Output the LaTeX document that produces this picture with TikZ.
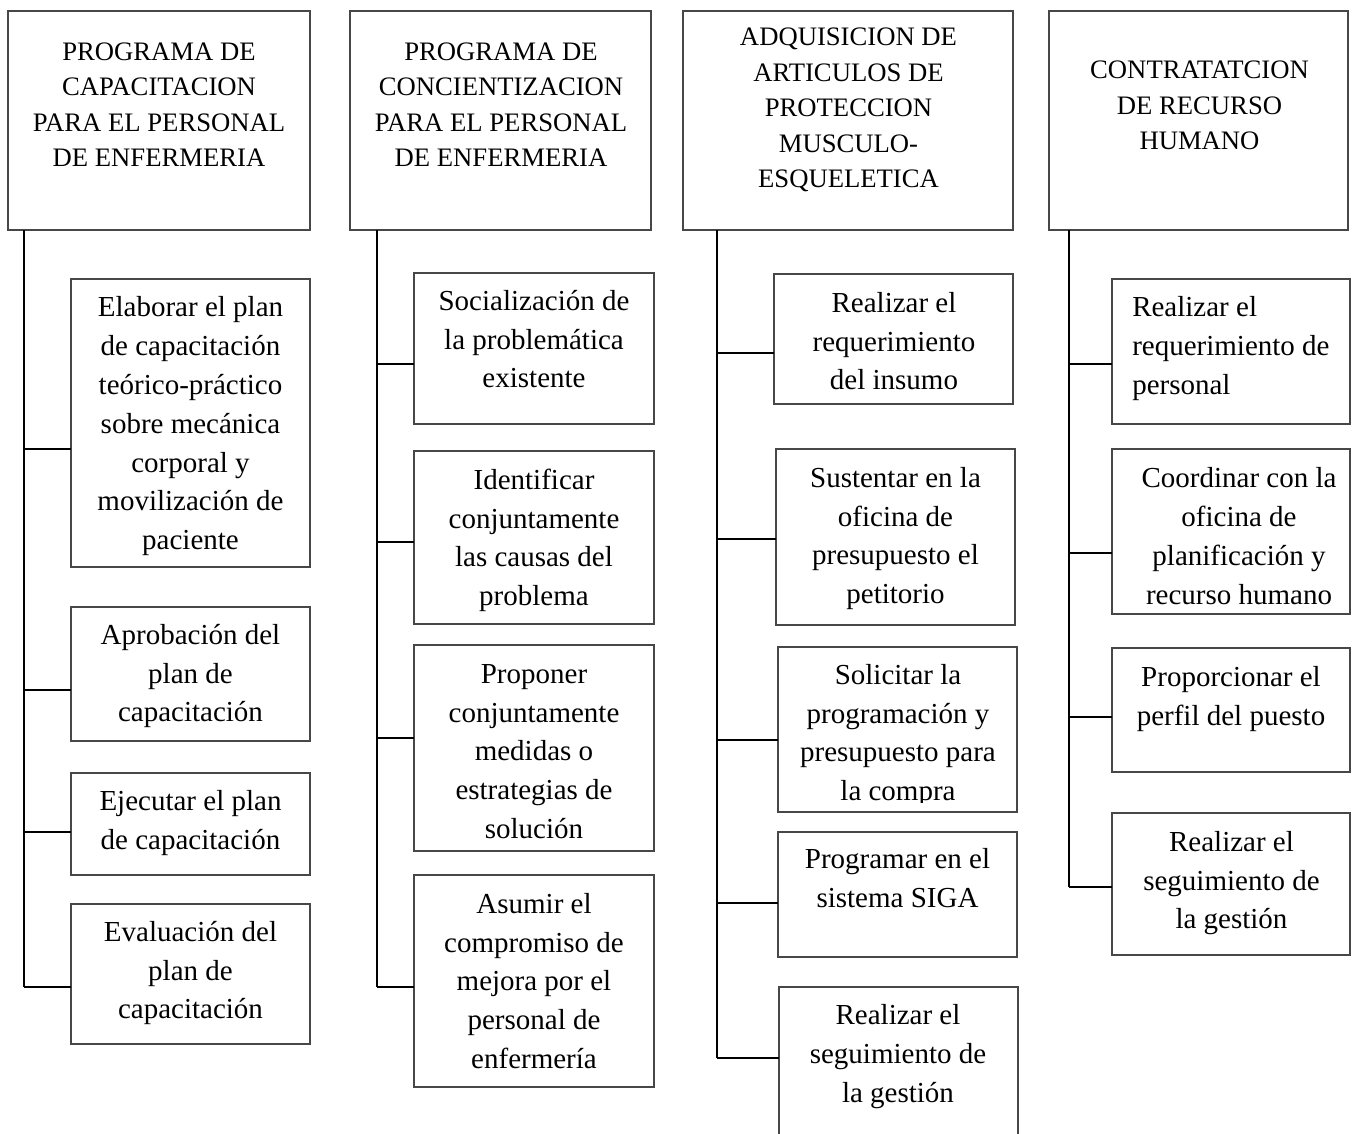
\documentclass[tikz,border=0pt]{standalone}
\usepackage{fontspec}
\setmainfont{Liberation Serif}
\newcommand\hdfont{\fontsize{20}{26.6}\selectfont}
\newcommand\kidfont{\fontsize{21.75}{29.1}\selectfont}
\tikzset{
  boxr/.style={draw=black!72, line width=0.8pt, inner sep=0pt, outer sep=0pt, anchor=north west, rectangle},
  hdtxt/.style={font=\hdfont, align=center, inner sep=0pt, anchor=north},
  kidtxt/.style={font=\kidfont, align=center, inner sep=0pt, anchor=north},
  kidleft/.style={font=\kidfont, align=left, inner sep=0pt, anchor=north west},
  link/.style={line width=1.5pt, black}
}
% box: name, x1, y1, x2, y2 (pixels)
\newcommand\mkbox[5]{\node[boxr, minimum width={(#4-#2)*0.75pt}, minimum height={(#5-#3)*0.75pt}] (#1) at (#2,#3) {};}
% header text: name, centre x, first baseline y, text
\newcommand\hdtext[4]{\node[hdtxt] (#1) at (#2,#3-20) {\rule{0pt}{0.75em}#4};}
% child text: name, centre x, first baseline y, text
\newcommand\kidtext[4]{\node[kidtxt] (#1) at (#2,#3-21.75) {\rule{0pt}{0.75em}#4};}
\begin{document}
\begin{tikzpicture}[x=0.75pt,y=-0.75pt]
\useasboundingbox (0,0) rectangle (1357,1133);
\fill[white] (0,0) rectangle (1357,1133);

% ---------- headers ----------
\mkbox{h1}{8}{11}{310}{230}
\mkbox{h2}{350}{11}{651}{230}
\mkbox{h3}{683}{11}{1013}{230}
\mkbox{h4}{1049}{11}{1348}{230}
\hdtext{h1t}{159}{60}{PROGRAMA DE\\CAPACITACION\\PARA EL PERSONAL\\DE ENFERMERIA}
\hdtext{h2t}{501}{60}{PROGRAMA DE\\CONCIENTIZACION\\PARA EL PERSONAL\\DE ENFERMERIA}
\hdtext{h3t}{848.5}{45.5}{ADQUISICION DE\\ARTICULOS DE\\PROTECCION\\MUSCULO-\\ESQUELETICA}
\hdtext{h4t}{1199.5}{78.5}{CONTRATATCION\\DE RECURSO\\HUMANO}

% ---------- column 1 ----------
\mkbox{c11}{71}{279}{310}{567}
\mkbox{c12}{71}{607}{310}{741}
\mkbox{c13}{71}{773}{310}{875}
\mkbox{c14}{71}{904}{310}{1044}
\kidtext{c11t}{190.5}{316.7}{Elaborar el plan\\de capacitación\\teórico-práctico\\sobre mecánica\\corporal y\\movilización de\\paciente}
\kidtext{c12t}{190.5}{644}{Aprobación del\\plan de\\capacitación}
\kidtext{c13t}{190.5}{810}{Ejecutar el plan\\de capacitación}
\kidtext{c14t}{190.5}{941}{Evaluación del\\plan de\\capacitación}
\coordinate (j11) at (24,449);
\coordinate (j12) at (24,690);
\coordinate (j13) at (24,832);
\coordinate (j14) at (24,987);
\draw[link] (h1.south -| j14) -- (j14);
\draw[link] (j11) -- (j11 -| c11.west);
\draw[link] (j12) -- (j12 -| c12.west);
\draw[link] (j13) -- (j13 -| c13.west);
\draw[link] (j14) -- (j14 -| c14.west);

% ---------- column 2 ----------
\mkbox{c21}{414}{273}{654}{424}
\mkbox{c22}{414}{451}{654}{624}
\mkbox{c23}{414}{645}{654}{851}
\mkbox{c24}{414}{875}{654}{1087}
\kidtext{c21t}{534}{310}{Socialización de\\la problemática\\existente}
\kidtext{c22t}{534}{489}{Identificar\\conjuntamente\\las causas del\\problema}
\kidtext{c23t}{534}{683}{Proponer\\conjuntamente\\medidas o\\estrategias de\\solución}
\kidtext{c24t}{534}{913}{Asumir el\\compromiso de\\mejora por el\\personal de\\enfermería}
\coordinate (j21) at (377,364);
\coordinate (j22) at (377,542);
\coordinate (j23) at (377,738);
\coordinate (j24) at (377,987);
\draw[link] (h2.south -| j24) -- (j24);
\draw[link] (j21) -- (j21 -| c21.west);
\draw[link] (j22) -- (j22 -| c22.west);
\draw[link] (j23) -- (j23 -| c23.west);
\draw[link] (j24) -- (j24 -| c24.west);

% ---------- column 3 ----------
\mkbox{c31}{774}{274}{1013}{404}
\mkbox{c32}{776}{449}{1015}{625}
\mkbox{c33}{778}{647}{1017}{812}
\mkbox{c34}{778}{832}{1017}{957}
\mkbox{c35}{779}{987}{1018}{1145}
\kidtext{c31t}{894}{312}{Realizar el\\requerimiento\\del insumo}
\kidtext{c32t}{895.5}{487}{Sustentar en la\\oficina de\\presupuesto el\\petitorio}
\begin{scope}
\clip (778,647) rectangle (1017,802);
\kidtext{c33t}{898}{684}{Solicitar la\\programación y\\presupuesto para\\la compra}
\end{scope}
\kidtext{c34t}{897.5}{868}{Programar en el\\sistema SIGA}
\kidtext{c35t}{898}{1024.5}{Realizar el\\seguimiento de\\la gestión}
\coordinate (j31) at (717,353);
\coordinate (j32) at (717,539);
\coordinate (j33) at (717,740);
\coordinate (j34) at (717,903);
\coordinate (j35) at (717,1058);
\draw[link] (h3.south -| j35) -- (j35);
\draw[link] (j31) -- (j31 -| c31.west);
\draw[link] (j32) -- (j32 -| c32.west);
\draw[link] (j33) -- (j33 -| c33.west);
\draw[link] (j34) -- (j34 -| c34.west);
\draw[link] (j35) -- (j35 -| c35.west);

% ---------- column 4 ----------
\mkbox{c41}{1112}{279}{1350}{424}
\mkbox{c42}{1112}{449}{1350}{614}
\mkbox{c43}{1112}{648}{1350}{772}
\mkbox{c44}{1112}{813}{1350}{955}
\node[kidleft] (c41t) at (1132,316.5-21.75) {\rule{0pt}{0.75em}Realizar el\\requerimiento de\\personal};
\kidtext{c42t}{1239}{487.5}{Coordinar con la\\oficina de\\planificación y\\recurso humano}
\kidtext{c43t}{1231}{686}{Proporcionar el\\perfil del puesto}
\kidtext{c44t}{1231.5}{851}{Realizar el\\seguimiento de\\la gestión}
\coordinate (j41) at (1069,364);
\coordinate (j42) at (1069,553);
\coordinate (j43) at (1069,717);
\coordinate (j44) at (1069,887);
\draw[link] (h4.south -| j44) -- (j44);
\draw[link] (j41) -- (j41 -| c41.west);
\draw[link] (j42) -- (j42 -| c42.west);
\draw[link] (j43) -- (j43 -| c43.west);
\draw[link] (j44) -- (j44 -| c44.west);
\end{tikzpicture}
\end{document}
